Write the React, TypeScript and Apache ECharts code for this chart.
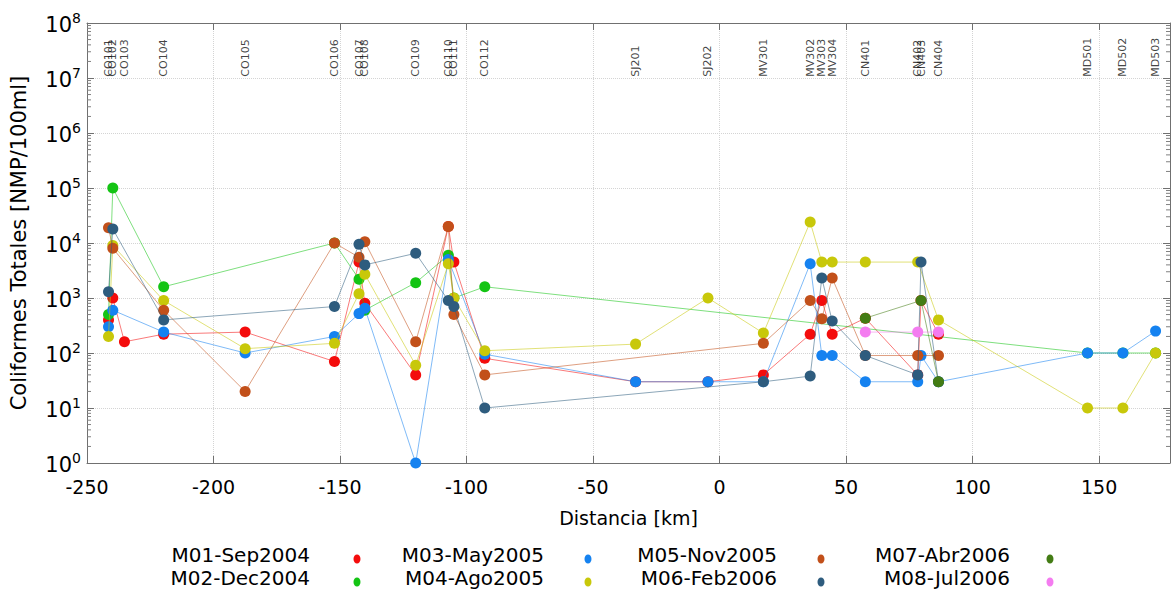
import React, { useEffect, useRef } from 'react';
import * as echarts from 'echarts';

// Stations (name and distance in km)
const stations = ['CO101', 'CO102', 'CO103', 'CO104', 'CO105', 'CO106', 'CO107', 'CO108', 'CO109', 'CO110', 'CO111', 'CO112', 'SJ201', 'SJ202', 'MV301', 'MV302', 'MV303', 'MV304', 'CN401', 'CN402', 'CN403', 'CN404', 'MD501', 'MD502', 'MD503'];
const stationKm = [-241.5, -239.8, -235.2, -219.7, -187.5, -152.2, -142.5, -140.2, -120.1, -107.2, -105.0, -92.8, -33.2, -4.6, 17.3, 35.8, 40.4, 44.5, 57.6, 78.3, 79.6, 86.5, 145.4, 159.4, 172.3];

const seriesNames = ['M01-Sep2004', 'M02-Dec2004', 'M03-May2005', 'M04-Ago2005', 'M05-Nov2005', 'M06-Feb2006', 'M07-Abr2006', 'M08-Jul2006'];
const seriesColors = ['#f40c0c', '#14c414', '#1582f0', '#c8c80a', '#c2501a', '#2e5c7e', '#437c14', '#f47cf0'];

// Values per station (same order as stations), null = not sampled
const m01 = [400, 1000, 160, 220, 240, 70, 4500, 800, 40, 20000, 4500, 80, 30, 30, 40, 220, 900, 220, 430, 40, 900, 220, null, null, null];
const m02 = [500, 100000, null, 1600, null, 10000, 2200, 600, 1900, 6000, 1000, 1600, null, null, null, null, null, null, null, null, null, null, 100, 100, 100];
const m03 = [300, 600, null, 240, 100, 200, 520, 650, 1, 5000, null, 95, 30, 30, 30, 4200, 90, 90, 30, 30, 90, 30, 100, 100, 250];
const m04 = [200, 9000, null, 900, 120, 150, 1200, 2700, 60, 4200, 1000, 110, 145, 1000, 230, 24000, 4500, 4500, 4500, 4500, null, 400, 10, 10, 100];
const m05 = [19000, 8000, null, 600, 20, 10000, 5500, 10500, 160, 20000, 500, 40, null, null, 150, 900, 420, 2300, 90, 90, null, 90, null, null, null];
const m06 = [1300, 18000, null, 400, null, 700, 9500, 4000, 6500, 900, 700, 10, null, null, 30, 38, 2300, 380, 90, 40, 4500, 30, null, null, null];
const m07 = [null, null, null, null, null, null, null, null, null, null, null, null, null, null, null, null, null, null, 430, null, 900, 30, null, null, null];
const m08 = [null, null, null, null, null, null, null, null, null, null, null, null, null, null, null, null, null, null, 240, 240, null, 240, null, null, null];
const allSeries = [m01, m02, m03, m04, m05, m06, m07, m08];

const X_MIN = -250;
const X_MAX = 178;
const X_INTERVAL = 50;
const Y_MIN = 1;
const Y_MAX = 1e8;
const minorMantissas = [2, 3, 4, 5, 6, 7, 8, 9];
const decades = [0, 1, 2, 3, 4, 5, 6, 7];

const FONT = 'DejaVu Sans';

export default function App() {
  const ref = useRef<HTMLDivElement>(null);

  useEffect(() => {
    if (!ref.current) return;
    const chart = echarts.init(ref.current, null, { renderer: 'svg' });

    const lineSeries = allSeries.map((vals, i) => ({
      type: 'line',
      name: seriesNames[i],
      data: vals
        .map((v, j) => (v == null ? null : [stationKm[j], v]))
        .filter((d) => d != null),
      symbol: 'circle',
      symbolSize: 11,
      itemStyle: { color: seriesColors[i] },
      lineStyle: { color: seriesColors[i], width: 1, opacity: 0.55 },
      z: 3 + i * 0.01,
      silent: true,
    }));

    const minorData: number[][] = [];
    decades.forEach((d) => minorMantissas.forEach((m) => minorData.push([X_MIN, m * Math.pow(10, d)])));

    const minorTicks = {
      type: 'custom',
      silent: true,
      clip: false,
      z: 10,
      data: minorData,
      renderItem: (params: any, api: any) => {
        const v = api.value(1);
        const pl = api.coord([X_MIN, v]);
        const pr = api.coord([X_MAX, v]);
        const st = { stroke: '#808080', lineWidth: 1 };
        return {
          type: 'group',
          children: [
            { type: 'line', shape: { x1: pl[0], y1: pl[1], x2: pl[0] + 4, y2: pl[1] }, style: st },
            { type: 'line', shape: { x1: pr[0] - 4, y1: pr[1], x2: pr[0], y2: pr[1] }, style: st },
          ],
        };
      },
    };

    const stationLabels = {
      type: 'scatter',
      silent: true,
      symbolSize: 0,
      z: 20,
      data: stationKm.map((k, i) => ({ value: [k, 1.15e7], name: stations[i] })),
      label: {
        show: true,
        position: 'inside',
        offset: [-2, 0],
        formatter: (p: any) => p.name,
        rotate: 90,
        align: 'left',
        verticalAlign: 'middle',
        fontSize: 11,
        fontFamily: FONT,
        color: '#111',
      },
    };

    // legend graphics
    const legendCols = [
      { textRight: 310, dot: 357 },
      { textRight: 544, dot: 588 },
      { textRight: 777, dot: 821 },
      { textRight: 1010, dot: 1050 },
    ];
    const legendRows = [555, 578];
    const graphic: any[] = [];
    seriesNames.forEach((name, i) => {
      const col = legendCols[Math.floor(i / 2)];
      const y = legendRows[i % 2];
      graphic.push({
        type: 'text',
        x: col.textRight,
        y,
        style: { text: name, fill: '#000', font: `20px "${FONT}"`, textAlign: 'right', textVerticalAlign: 'middle' },
        silent: true,
      });
      graphic.push({
        type: 'ellipse',
        shape: { cx: col.dot, cy: y + 4, rx: 3.5, ry: 4.5 },
        style: { fill: seriesColors[i] },
        silent: true,
      });
    });

    const axisLineStyle = { color: '#707070', width: 1 };

    chart.setOption({
      animation: false,
      backgroundColor: '#fff',
      grid: { left: 85, right: 3, top: 23, bottom: 131, containLabel: false },
      xAxis: [
        {
          type: 'value',
          min: X_MIN,
          max: X_MAX,
          interval: X_INTERVAL,
          position: 'bottom',
          axisLine: { show: true, onZero: false, lineStyle: axisLineStyle },
          axisTick: { show: true, inside: true, length: 7, lineStyle: axisLineStyle },
          axisLabel: { color: '#000', fontSize: 19, fontFamily: FONT, margin: 14, showMaxLabel: false },
          splitLine: { show: true, lineStyle: { color: '#d4d4d4', type: 'dotted', width: 1 } },
          name: 'Distancia [km]',
          nameLocation: 'middle',
          nameGap: 45,
          nameTextStyle: { color: '#000', fontSize: 19, fontFamily: FONT },
        },
        {
          type: 'value',
          min: X_MIN,
          max: X_MAX,
          interval: X_INTERVAL,
          position: 'top',
          axisLine: { show: true, onZero: false, lineStyle: axisLineStyle },
          axisTick: { show: true, inside: true, length: 7, lineStyle: axisLineStyle },
          axisLabel: { show: false },
          splitLine: { show: false },
        },
      ],
      yAxis: [
        {
          type: 'log',
          logBase: 10,
          min: Y_MIN,
          max: Y_MAX,
          splitNumber: 8,
          position: 'left',
          axisLine: { show: true, onZero: false, lineStyle: axisLineStyle },
          axisTick: { show: true, inside: true, length: 7, lineStyle: axisLineStyle },
          axisLabel: {
            margin: 6,
            formatter: (v: number) => `{b|10}{s|${Math.round(Math.log10(v))}}`,
            rich: {
              b: { fontSize: 21, fontFamily: FONT, color: '#000', lineHeight: 24, verticalAlign: 'bottom' },
              s: { fontSize: 14, fontFamily: FONT, color: '#000', lineHeight: 24, verticalAlign: 'top' },
            },
          },
          splitLine: { show: true, lineStyle: { color: '#d4d4d4', type: 'dotted', width: 1 } },
          name: 'Coliformes Totales [NMP/100ml]',
          nameLocation: 'middle',
          nameGap: 58,
          nameTextStyle: { color: '#000', fontSize: 21, fontFamily: FONT },
        },
        {
          type: 'log',
          logBase: 10,
          min: Y_MIN,
          max: Y_MAX,
          splitNumber: 8,
          position: 'right',
          axisLine: { show: true, onZero: false, lineStyle: axisLineStyle },
          axisTick: { show: true, inside: true, length: 7, lineStyle: axisLineStyle },
          axisLabel: { show: false },
          splitLine: { show: false },
        },
      ],
      series: [...lineSeries, minorTicks, stationLabels],
      graphic,
    });

    return () => chart.dispose();
  }, []);

  return <div ref={ref} style={{ width: 1173, height: 594, position: 'absolute', left: 0, top: 0 }} />;
}
